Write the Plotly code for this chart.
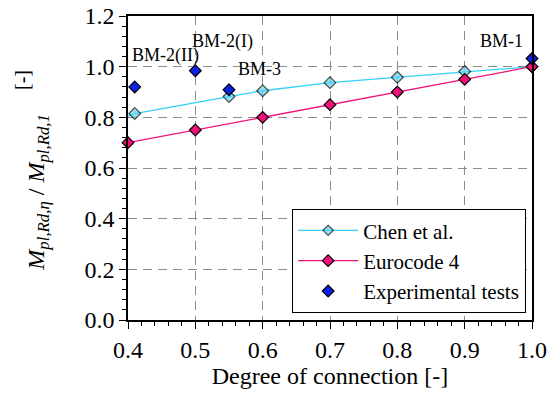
import plotly.graph_objects as go

# Data
chen_x = [0.40, 0.41, 0.55, 0.60, 0.70, 0.80, 0.90, 1.00]
chen_y = [0.805, 0.815, 0.882, 0.905, 0.937, 0.958, 0.981, 1.000]
chen_marker = [False, True, True, True, True, True, True, True]

ec4_x = [0.4, 0.5, 0.6, 0.7, 0.8, 0.9, 1.0]
ec4_y = [0.70, 0.75, 0.80, 0.85, 0.90, 0.95, 1.00]

exp_x = [0.41, 0.50, 0.55, 1.00]
exp_y = [0.920, 0.984, 0.909, 1.032]

labels = ["BM-2(II)", "BM-2(I)", "BM-3", "BM-1"]
label_x = [0.455, 0.54, 0.595, 0.955]
label_y = [1.045, 1.10, 0.99, 1.10]

xticks = [0.4, 0.5, 0.6, 0.7, 0.8, 0.9, 1.0]
yticks = [0.0, 0.2, 0.4, 0.6, 0.8, 1.0, 1.2]

FONT = "'Liberation Serif', 'Times New Roman', Times, serif"

fig = go.Figure()
fig.add_trace(go.Scatter(
    x=chen_x, y=chen_y, mode="lines+markers", name="Chen et al.",
    line=dict(color="#33d1f5", width=1.3),
    marker=dict(symbol="diamond", size=[9 if m else 0 for m in chen_marker],
                color="#5fd3ee", line=dict(color="black", width=1.2)),
    cliponaxis=False,
))
fig.add_trace(go.Scatter(
    x=ec4_x, y=ec4_y, mode="lines+markers", name="Eurocode 4",
    line=dict(color="#f0127a", width=1.3),
    marker=dict(symbol="diamond", size=9, color="#f0127a",
                line=dict(color="black", width=1.2)),
    cliponaxis=False,
))
fig.add_trace(go.Scatter(
    x=exp_x, y=exp_y, mode="markers", name="Experimental tests",
    marker=dict(symbol="diamond", size=9, color="#0a22e8",
                line=dict(color="black", width=1.2)),
    cliponaxis=False,
))

for t, lx, ly in zip(labels, label_x, label_y):
    fig.add_annotation(x=lx, y=ly, text=t, showarrow=False,
                       font=dict(family=FONT, size=18, color="black"))

# y-axis title
fig.add_annotation(
    xref="paper", yref="paper", x=-0.222, y=0.42, textangle=-90,
    xanchor="center", yanchor="middle",
    text="<i>M</i><sub><i>pl,Rd,η</i></sub> / <i>M</i><sub><i>pl,Rd,1</i></sub>",
    showarrow=False, font=dict(family=FONT, size=24, color="black"),
)
fig.add_annotation(
    xref="paper", yref="paper", x=-0.262, y=0.79, textangle=-90,
    xanchor="center", yanchor="middle",
    text="[-]", showarrow=False, font=dict(family=FONT, size=20, color="black"),
)

axis_common = dict(
    showline=True, linecolor="black", linewidth=1.5, mirror=True,
    ticks="outside", ticklen=7, tickcolor="black", tickwidth=1.2,
    showgrid=True, gridcolor="#8c8c8c", gridwidth=1.2, griddash="9px,6px",
    zeroline=False, automargin=False,
    tickfont=dict(family=FONT, size=24, color="black"),
)

fig.update_xaxes(
    range=[0.4, 1.0], tickvals=xticks, ticktext=[f"{v:.1f}" for v in xticks],
    minor=dict(dtick=0.02, tick0=0.4, ticks="outside", ticklen=4,
               tickcolor="black", showgrid=False),
    title=dict(text="Degree of connection [-]",
               font=dict(family=FONT, size=24, color="black"), standoff=2),
    **axis_common,
)
fig.update_yaxes(
    range=[0, 1.2], tickvals=yticks, ticktext=[f"{v:.1f}" for v in yticks],
    minor=dict(dtick=0.04, tick0=0.0, ticks="outside", ticklen=4,
               tickcolor="black", showgrid=False),
    **axis_common,
)

fig.update_layout(
    width=547, height=400,
    margin=dict(l=128, r=15, t=16, b=80),
    paper_bgcolor="white", plot_bgcolor="white",
    font=dict(family=FONT, color="black"),
    showlegend=True,
    legend=dict(
        x=0.985, y=0.023, xanchor="right", yanchor="bottom",
        bgcolor="white", bordercolor="black", borderwidth=1.2,
        font=dict(family=FONT, size=21, color="black"),
        itemwidth=60, tracegroupgap=2,
        entrywidth=235, entrywidthmode="pixels",
    ),
)

fig.write_html("out.html", config={"displayModeBar": False},
               post_script="document.body.style.margin='0px';")
